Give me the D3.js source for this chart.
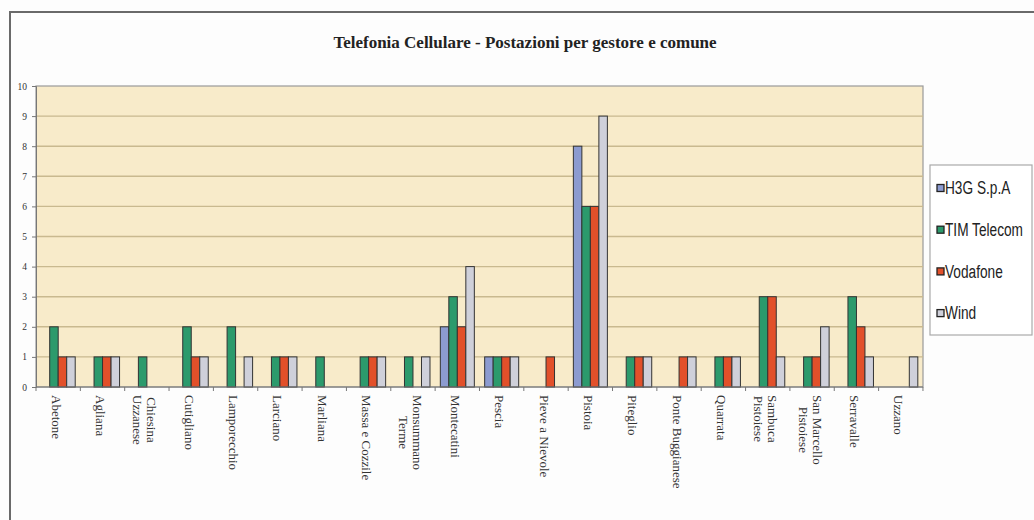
<!DOCTYPE html>
<html>
<head>
<meta charset="utf-8">
<script src="https://cdn.jsdelivr.net/npm/d3@7"></script>
<style>
  html, body { margin: 0; padding: 0; background: #fdfdfd; }
  svg { display: block; }
</style>
</head>
<body>
<svg id="chart" width="1034" height="520"></svg>
<script>
// Comuni (line breaks mark the wrapped axis labels)
const categories = [
  "Abetone", "Agliana", "Chiesina\nUzzanese", "Cutigliano", "Lamporecchio",
  "Larciano", "Marliana", "Massa e Cozzile", "Monsummano\nTerme", "Montecatini",
  "Pescia", "Pieve a Nievole", "Pistoia", "Piteglio", "Ponte Buggianese",
  "Quarrata", "Sambuca\nPistoiese", "San Marcello\nPistoiese", "Serravalle", "Uzzano"
];
const operators = ["H3G S.p.A", "TIM Telecom", "Vodafone", "Wind"];
const h3g      = [0, 0, 0, 0, 0, 0, 0, 0, 0, 2, 1, 0, 8, 0, 0, 0, 0, 0, 0, 0];
const tim      = [2, 1, 1, 2, 2, 1, 1, 1, 1, 3, 1, 0, 6, 1, 0, 1, 3, 1, 3, 0];
const vodafone = [1, 1, 0, 1, 0, 1, 0, 1, 0, 2, 1, 1, 6, 1, 1, 1, 3, 1, 2, 0];
const wind     = [1, 1, 0, 1, 1, 1, 0, 1, 1, 4, 1, 0, 9, 1, 1, 1, 1, 2, 1, 1];
const yTicks   = [0, 1, 2, 3, 4, 5, 6, 7, 8, 9, 10];
const chartTitle = "Telefonia Cellulare - Postazioni per gestore e comune";

const seriesValues = [h3g, tim, vodafone, wind];
const colors = ["#8c9bd0", "#2c9a6c", "#e2502a", "#cfd0da"];

const svg = d3.select("#chart");
const plot = { left: 36, right: 923, top: 86, bottom: 387 };

// outer frame (top and left edges)
svg.append("path")
  .attr("d", "M10,520V12H1034")
  .attr("fill", "none").attr("stroke", "#6a6a6a").attr("stroke-width", 2);

// title
svg.append("text")
  .attr("x", 525).attr("y", 48)
  .attr("text-anchor", "middle")
  .attr("font-family", "Liberation Serif, serif")
  .attr("font-weight", "bold").attr("font-size", 17)
  .attr("fill", "#222")
  .text(chartTitle);

const x0 = d3.scaleBand().domain(categories)
  .range([plot.left, plot.right]).paddingInner(0.233).paddingOuter(0.117);
const x1 = d3.scaleBand().domain(operators).range([0, x0.bandwidth()]);
const y = d3.scaleLinear().domain([0, 10]).range([plot.bottom, plot.top]);

// plot background
svg.append("rect")
  .attr("x", plot.left).attr("y", plot.top)
  .attr("width", plot.right - plot.left).attr("height", plot.bottom - plot.top)
  .attr("fill", "#f8ebca").attr("stroke", "#9a9a9a").attr("stroke-width", 1.2);

// horizontal gridlines
svg.append("g").selectAll("line")
  .data(yTicks.filter(t => t > 0 && t < 10))
  .join("line")
  .attr("x1", plot.left).attr("x2", plot.right)
  .attr("y1", d => y(d)).attr("y2", d => y(d))
  .attr("stroke", "#c9b98f").attr("stroke-width", 1.4);

// bars
const rows = categories.map((c, i) => ({ c, vals: seriesValues.map(s => s[i]) }));
svg.append("g").selectAll("g")
  .data(rows)
  .join("g")
  .attr("transform", d => `translate(${x0(d.c)},0)`)
  .selectAll("rect")
  .data(d => d.vals.map((v, k) => ({ v, k })).filter(e => e.v > 0))
  .join("rect")
  .attr("x", e => x1(operators[e.k]))
  .attr("width", x1.bandwidth())
  .attr("y", e => y(e.v))
  .attr("height", e => y(0) - y(e.v))
  .attr("fill", e => colors[e.k])
  .attr("stroke", "#333").attr("stroke-width", 1);

// y axis
const yAxis = svg.append("g")
  .attr("transform", `translate(${plot.left},0)`)
  .call(d3.axisLeft(y).tickValues(yTicks).tickSize(4).tickPadding(5).tickFormat(d3.format("d")));
yAxis.select(".domain").attr("stroke", "#777");
yAxis.selectAll(".tick line").attr("stroke", "#777");
yAxis.selectAll("text")
  .attr("font-family", "Liberation Serif, serif").attr("font-size", 9.5).attr("fill", "#333");

// x axis line with separators between comuni
const step = x0.step();
svg.append("line")
  .attr("x1", plot.left).attr("x2", plot.right)
  .attr("y1", plot.bottom).attr("y2", plot.bottom)
  .attr("stroke", "#777").attr("stroke-width", 1.2);
svg.append("g").selectAll("line")
  .data(d3.range(categories.length + 1))
  .join("line")
  .attr("x1", i => plot.left + i * step).attr("x2", i => plot.left + i * step)
  .attr("y1", plot.bottom).attr("y2", plot.bottom + 4)
  .attr("stroke", "#777");

// rotated category labels
const lh = 14;
const labels = svg.append("g").selectAll("g")
  .data(categories)
  .join("g")
  .attr("transform", c => `translate(${x0(c) + x0.bandwidth() / 2 - 2},${plot.bottom + 8}) rotate(90)`);
labels.each(function (c) {
  const g = d3.select(this);
  const lines = c.split("\n");
  const texts = lines.map((ln, i) => g.append("text")
    .attr("y", (i - (lines.length - 1) / 2) * lh)
    .attr("dominant-baseline", "central")
    .attr("font-family", "Liberation Serif, serif")
    .attr("font-size", 13).attr("fill", "#333")
    .text(ln));
  if (lines.length > 1) {
    const maxLen = d3.max(texts, t => t.node().getComputedTextLength());
    texts.forEach(t => t.attr("x", maxLen / 2).attr("text-anchor", "middle"));
  }
});

// legend
const legend = svg.append("g");
legend.append("rect")
  .attr("x", 930).attr("y", 165).attr("width", 102).attr("height", 170)
  .attr("fill", "#fff").attr("stroke", "#aaa").attr("stroke-width", 1.2);
const items = legend.selectAll("g.item")
  .data(operators)
  .join("g").attr("class", "item")
  .attr("transform", (d, i) => `translate(937,${188 + i * 41.7})`);
items.append("rect")
  .attr("x", 0).attr("y", -3.5).attr("width", 7).attr("height", 7)
  .attr("fill", (d, i) => colors[i]).attr("stroke", "#222").attr("stroke-width", 1.3);
items.append("text")
  .attr("transform", "translate(8,0) scale(0.72,1)")
  .attr("dominant-baseline", "central")
  .attr("font-family", "Liberation Sans, Arial, sans-serif")
  .attr("font-size", 19).attr("fill", "#222")
  .text(d => d);
</script>
</body>
</html>
